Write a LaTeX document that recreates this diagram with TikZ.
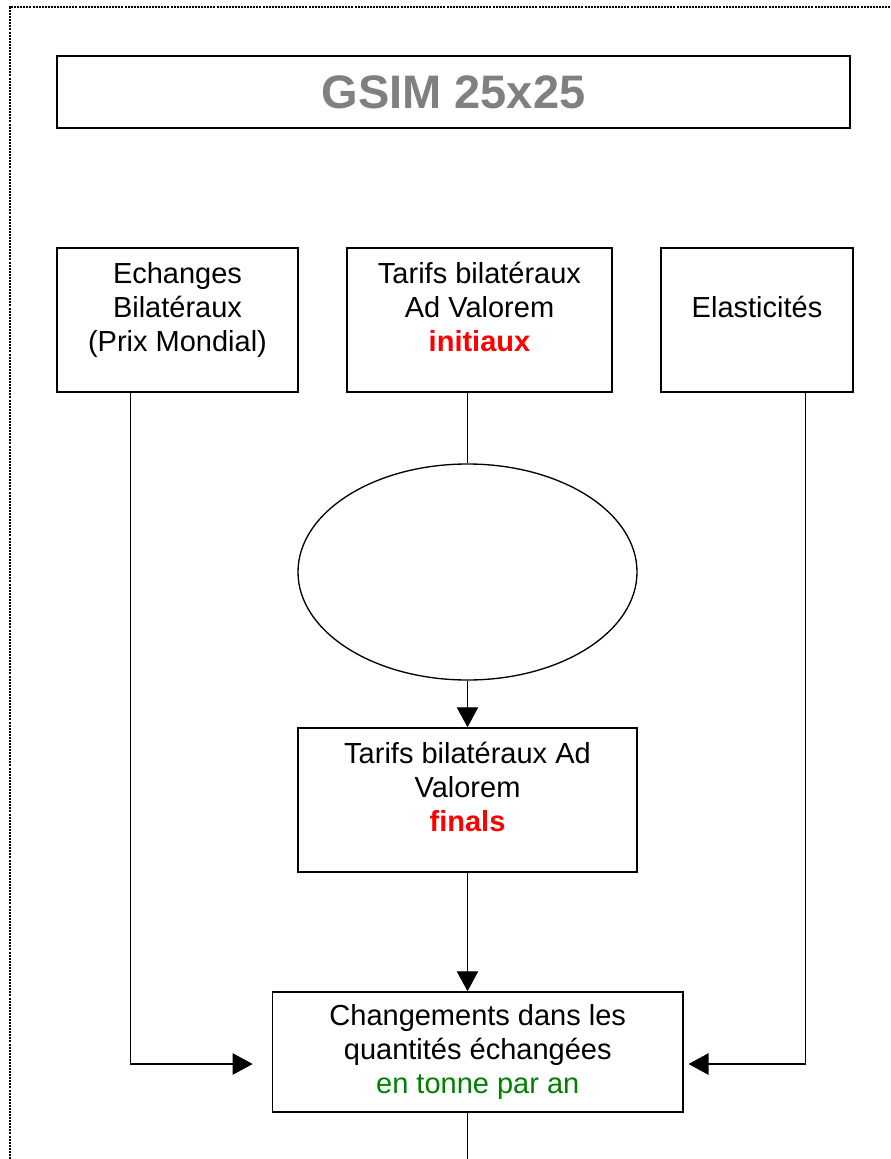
\documentclass[tikz,border=0pt]{standalone}
\usepackage{fontspec}
\setmainfont{Liberation Sans}
\usetikzlibrary{shapes.geometric,arrows.meta}
\definecolor{titlegrey}{RGB}{128,128,128}
\definecolor{finalred}{RGB}{255,0,0}
\definecolor{tonnegreen}{RGB}{0,128,0}

\begin{document}
\begin{tikzpicture}[x=0.75pt,y=-0.75pt,
    box/.style={draw,rectangle,line width=1.1pt,align=center,inner sep=0pt,
      font=\fontsize{21.75}{25.5}\selectfont},
    topbox/.style={box,text depth=19.5pt},
    flow/.style={line width=0.9pt},
    flowarrow/.style={-{Triangle[length=15pt,width=16pt]}}]
    \useasboundingbox (0,0) rectangle (890,1159);

    % Dotted frame (left and top only)
    \draw[line width=1.5pt,dash pattern=on 1.5pt off 0.8pt] (9.5,1159) -- (9.5,7.5) -- (890,7.5);

    % Title
    \node[draw,line width=1.6pt,inner sep=0pt,minimum width=594.75pt,minimum height=54pt,
      text=titlegrey,font=\fontsize{35.25}{40}\bfseries\selectfont] (title) at (453.5,92) {GSIM 25x25};

    % Inputs
    \node[topbox,minimum width=180.75pt,minimum height=108pt] (echanges) at (177.5,320)
      {Echanges\\Bilatéraux\\(Prix Mondial)};
    \node[topbox,minimum width=198.75pt,minimum height=108pt] (tarifsinit) at (479.5,320)
      {Tarifs bilatéraux\\Ad Valorem\\\textcolor{finalred}{\bfseries initiaux}};
    \node[topbox,minimum width=144pt,minimum height=108pt] (elast) at (757,320) {Elasticités};

    % Empty ellipse
    \node[draw,ellipse,line width=1pt,inner sep=0pt,minimum width=254.25pt,minimum height=162pt] (ell) at (467.5,572) {};

    % Final tariffs
    \node[topbox,minimum width=254.25pt,minimum height=108pt] (tarifsfinal) at (467.5,800)
      {Tarifs bilatéraux Ad\\Valorem\\\textcolor{finalred}{\bfseries finals}};

    % Result
    \node[box,minimum width=307.9pt,minimum height=90pt] (changements) at (477.75,1052)
      {Changements dans les\\quantités échangées\\\textcolor{tonnegreen}{en tonne par an}};

    % Connectors
    \coordinate (lbend) at (130.5,1064);
    \coordinate (ltip) at (252.7,1064);
    \coordinate (rbend) at (805.5,1064);
    \coordinate (rtip) at (688.5,1064);
    \coordinate (bottomend) at (467.5,1159);

    \draw[flow] (tarifsinit.south -| ell.north) -- (ell.north);
    \draw[flow,flowarrow] (ell.south) -- (tarifsfinal.north);
    \draw[flow,flowarrow] (tarifsfinal.south) -- (tarifsfinal.south |- changements.north);
    \draw[flow,flowarrow] (echanges.south -| lbend) |- (ltip);
    \draw[flow,flowarrow] (elast.south -| rbend) |- (rtip);
    \draw[flow] (tarifsfinal.south |- changements.south) -- (bottomend);
\end{tikzpicture}
\end{document}
